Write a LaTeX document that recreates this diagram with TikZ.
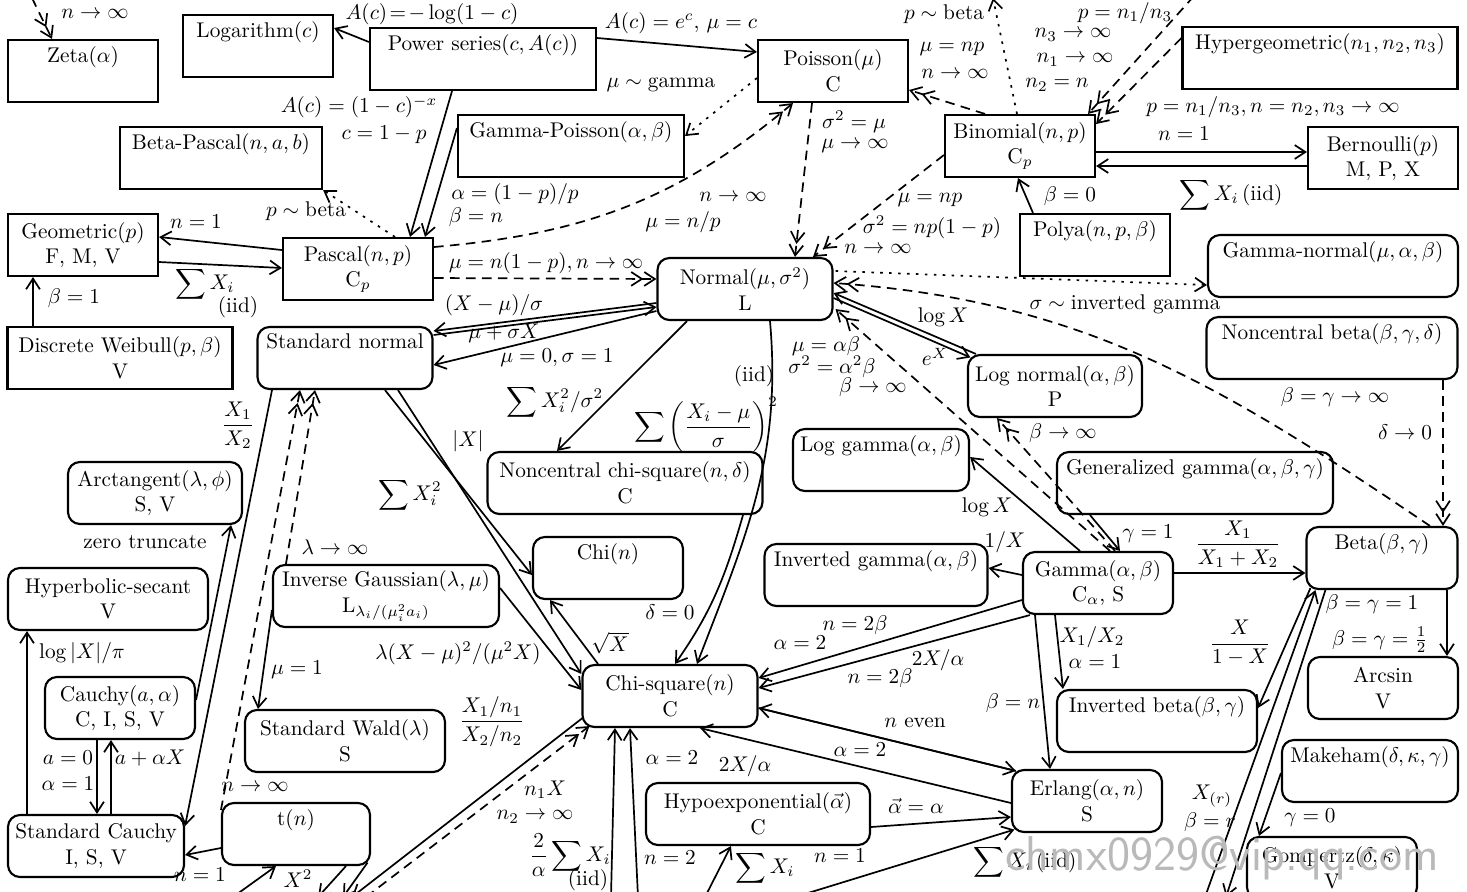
\documentclass[tikz,border=0pt]{standalone}
\usepackage{amsmath,amssymb}
\usepackage{tikz}
\usetikzlibrary{arrows.meta,calc}

\tikzset{
  disc/.style={draw,line width=1pt,rectangle,align=center,minimum height=62*0.47pt,inner sep=2pt},
  cont/.style={disc,rounded corners=5.6pt},
  boxw/.style={minimum width=#1*0.47pt},
  lbl/.style={inner sep=1pt},
  trans/.style={->,line width=0.8pt},
  limit/.style={->>,line width=0.8pt,dash pattern=on 4.5pt off 3pt},
  bayes/.style={->,line width=0.8pt,dash pattern=on 1.2pt off 3pt},
}

\begin{document}
\begin{tikzpicture}[x=0.47pt,y=-0.47pt,>={Straight Barb[length=5pt,width=6.5pt]}]
  \useasboundingbox (0,0) rectangle (1467,891);
  % discrete distributions
  \node[disc,boxw=150] (zeta) at (83,71) {Zeta$(\alpha)$\\\strut};
  \node[disc,boxw=150] (logar) at (258,46) {Logarithm$(c)$\\\strut};
  \node[disc,boxw=226] (power) at (483,59) {Power series$(c,A(c))$\\\strut};
  \node[disc,boxw=150] (poisson) at (833,71) {Poisson$(\mu)$\\C};
  \node[disc,boxw=275] (hyper) at (1320,58) {Hypergeometric$(n_1,n_2,n_3)$\\\strut};
  \node[disc,boxw=202] (betapas) at (221,158) {Beta-Pascal$(n,a,b)$\\\strut};
  \node[disc,boxw=226] (gampois) at (571,146) {Gamma-Poisson$(\alpha,\beta)$\\\strut};
  \node[disc,boxw=150] (binom) at (1020,146) {Binomial$(n,p)$\\C$_p$};
  \node[disc,boxw=150] (bern) at (1383,158) {Bernoulli$(p)$\\M, P, X};
  \node[disc,boxw=150] (geom) at (83,245) {Geometric$(p)$\\F, M, V};
  \node[disc,boxw=150] (pascal) at (358,269) {Pascal$(n,p)$\\C$_p$};
  \node[disc,boxw=150] (polya) at (1095,245) {Polya$(n,p,\beta)$\\\strut};
  \node[disc,boxw=225] (dweib) at (120,358) {Discrete Weibull$(p,\beta)$\\V};
  % continuous distributions
  \node[cont,boxw=175] (normal) at (745,289) {Normal$(\mu,\sigma^2)$\\L};
  \node[cont,boxw=250] (gamnorm) at (1333,266) {Gamma-normal$(\mu,\alpha,\beta)$\\\strut};
  \node[cont,boxw=175] (stdnorm) at (345,358) {Standard normal\\\strut};
  \node[cont,boxw=251] (ncbeta) at (1332,348) {Noncentral beta$(\beta,\gamma,\delta)$\\\strut};
  \node[cont,boxw=174] (lognorm) at (1055,386) {Log normal$(\alpha,\beta)$\\P};
  \node[cont,boxw=275] (ncchisq) at (625,483) {Noncentral chi-square$(n,\delta)$\\C};
  \node[cont,boxw=176] (loggam) at (881,460) {Log gamma$(\alpha,\beta)$\\\strut};
  \node[cont,boxw=276] (gengam) at (1195,483) {Generalized gamma$(\alpha,\beta,\gamma)$\\\strut};
  \node[cont,boxw=174] (arctan) at (155,493) {Arctangent$(\lambda,\phi)$\\S, V};
  \node[cont,boxw=150] (chi) at (608,568) {Chi$(n)$\\\strut};
  \node[cont,boxw=200] (hypsec) at (108,599) {Hyperbolic-secant\\V};
  \node[cont,boxw=226] (invgauss) at (386,596) {Inverse Gaussian$(\lambda,\mu)$\\L$_{\lambda_i/(\mu_i^2a_i)}$};
  \node[cont,boxw=223] (invgam) at (876,575) {Inverted gamma$(\alpha,\beta)$\\\strut};
  \node[cont,boxw=150] (gamma) at (1098,583) {Gamma$(\alpha,\beta)$\\C$_\alpha$, S};
  \node[cont,boxw=151] (beta) at (1382,558) {Beta$(\beta,\gamma)$\\\strut};
  \node[cont,boxw=175] (chisq) at (670,696) {Chi-square$(n)$\\C};
  \node[cont,boxw=150] (cauchy) at (120,708) {Cauchy$(a,\alpha)$\\C, I, S, V};
  \node[cont,boxw=200] (stdwald) at (345,741) {Standard Wald$(\lambda)$\\S};
  \node[cont,boxw=150] (arcsin) at (1383,688) {Arcsin\\V};
  \node[cont,boxw=200] (invbeta) at (1157,721) {Inverted beta$(\beta,\gamma)$\\\strut};
  \node[cont,boxw=176] (makeham) at (1370,771) {Makeham$(\delta,\kappa,\gamma)$\\\strut};
  \node[cont,boxw=176] (stdcauchy) at (96,846) {Standard Cauchy\\I, S, V};
  \node[cont,boxw=148] (tdist) at (296,834) {t$(n)$\\\strut};
  \node[cont,boxw=224] (hypoexp) at (758,814) {Hypoexponential$(\vec{\alpha})$\\C};
  \node[cont,boxw=150] (erlang) at (1087,801) {Erlang$(\alpha,n)$\\S};
  \node[cont,boxw=170] (gompertz) at (1332,868) {Gompertz$(\delta,\kappa)$\\V};
  % ends outside the frame
  \coordinate (zetain) at (32,-2);
  \coordinate (bbeta) at (993,-2);
  \coordinate (nhyper) at (1194,-4);
  \coordinate (fdist1) at (352,897);
  \coordinate (fdist2) at (366,897);
  \coordinate (expo1) at (611,897);
  \coordinate (expo2) at (638,897);
  \coordinate (expo3) at (795,897);
  \coordinate (expo4) at (705,897);
  \coordinate (unif1) at (1205,897);
  \coordinate (unif2) at (1226,897);
  \coordinate (tbot1) at (233,897);
  \coordinate (tbot2) at (318,897);
  \coordinate (tbot3) at (343,897);

  % discrete relations
  \draw[limit] (zetain) -- ($(zeta.north)+(-31,0)$);
  \draw[trans] ($(power.west)+(0,-17)$) -- ($(logar.east)+(0,-18)$);
  \draw[trans] ($(power.east)+(0,-21)$) -- ($(poisson.west)+(0,-19)$);
  \draw[trans] ($(power.south)+(-31,0)$) -- ($(pascal.north)+(52,0)$);
  \draw[trans] ($(gampois.west)+(0,-18)$) -- ($(pascal.north)+(67,0)$);
  \draw[bayes] ($(pascal.north)+(37,0)$) -- (betapas.south east);
  \draw[bayes] ($(poisson.west)+(0,7)$) -- ($(gampois.east)+(0,-10)$);
  \draw[limit] ($(pascal.east)+(0,-22)$) to[out=5,in=220] ($(poisson.south)+(-40,0)$);
  \draw[limit] ($(pascal.east)+(0,9)$) -- ($(normal.west)+(0,-10)$);
  \draw[limit] ($(poisson.south)+(-21,0)$) -- ($(normal.north)+(50,0)$);
  \draw[limit] ($(binom.north)+(-35,0)$) -- ($(poisson.east)+(0,19)$);
  \draw[limit] ($(binom.west)+(0,9)$) -- ($(normal.north)+(68,0)$);
  \draw[bayes] ($(binom.north)+(-3,0)$) -- (bbeta);
  \draw[limit] (nhyper) -- ($(binom.north east)+(-8,0)$);
  \draw[limit] ($(hyper.west)+(0,-20)$) -- ($(binom.east)+(0,-22)$);
  \draw[trans] ($(binom.east)+(0,6)$) -- ($(bern.west)+(0,-6)$);
  \draw[trans] ($(bern.west)+(0,8)$) -- ($(binom.east)+(0,20)$);
  \draw[trans] ($(polya.north)+(-62,0)$) -- ($(binom.south)+(-2,0)$);
  \draw[trans] ($(pascal.west)+(0,-19)$) -- ($(geom.east)+(0,-8)$);
  \draw[trans] ($(geom.east)+(0,17)$) -- ($(pascal.west)+(0,-1)$);
  \draw[trans] ($(dweib.north)+(-87,0)$) -- ($(geom.south)+(-50,0)$);

  % normal and chi-square
  \draw[trans] ($(normal.west)+(0,14)$) -- ($(stdnorm.east)+(0,-27)$);
  \draw[trans] ($(stdnorm.east)+(0,-23)$) -- ($(normal.west)+(0,18)$);
  \draw[trans] ($(normal.west)+(0,22)$) -- ($(stdnorm.east)+(0,7)$);
  \draw[trans] ($(normal.south)+(-58,0)$) -- ($(ncchisq.north)+(-68,0)$);
  \draw[trans] ($(normal.south)+(25,0)$) to[out=-85,in=69] ($(chisq.north)+(27,0)$);
  \draw[trans] ($(ncchisq.south)+(118,0)$) to[out=-106,in=55] ($(chisq.north)+(5,0)$);
  \draw[trans] ($(stdnorm.south)+(40,0)$) -- ($(chi.west)+(0,7)$);
  \draw[trans] ($(stdnorm.south)+(53,0)$) -- ($(chisq.west)+(0,-22)$);
  \draw[trans] ($(chisq.north)+(-72,0)$) -- ($(chi.south)+(-58,0)$);
  \draw[trans] ($(invgauss.east)+(0,-8)$) -- ($(chisq.west)+(0,-6)$);
  \draw[trans] ($(lognorm.north west)+(9,0)$) -- ($(normal.east)+(0,4)$);
  \draw[trans] ($(normal.east)+(0,9)$) -- ($(lognorm.north west)+(3.5,3.5)$);
  \draw[bayes] ($(normal.east)+(2,-18)$) -- ($(gamnorm.west)+(0,19)$);
  \draw[limit] ($(beta.north)+(48,0)$) to[out=146,in=-4] ($(normal.east)+(0,-6)$);
  \draw[limit] ($(ncbeta.south)+(111,0)$) -- ($(beta.north)+(61,0)$);

  % gamma family
  \draw[limit] ($(gamma.north)+(12,0)$) -- ($(normal.south east)+(2,-12)$);
  \draw[limit] ($(gamma.north)+(17,0)$) -- ($(lognorm.south)+(-58,0)$);
  \draw[trans] ($(gamma.north)+(-18,0)$) -- ($(loggam.east)+(0,-3)$);
  \draw[trans] ($(gamma.west)+(0,-8)$) -- ($(invgam.east)+(0,-7)$);
  \draw[trans] ($(gengam.south)+(-105,0)$) -- ($(gamma.north)+(22,0)$);
  \draw[trans] ($(gamma.east)+(0,-10)$) -- ($(beta.west)+(0,15)$);
  \draw[trans] ($(gamma.west)+(0,17)$) -- ($(chisq.east)+(0,-18)$);
  \draw[trans] ($(gamma.south west)+(8,0)$) -- ($(chisq.east)+(0,-8)$);
  \draw[trans] ($(gamma.south)+(-43,0)$) -- ($(invbeta.north)+(-94,0)$);
  \draw[trans] ($(gamma.south)+(-63,0)$) -- ($(erlang.north)+(-37,0)$);
  \draw[trans] ($(chisq.east)+(0,12)$) -- ($(erlang.north west)+(5,2)$);
  \draw[trans] ($(erlang.north west)+(5,2)$) -- ($(chisq.east)+(0,12)$);
  \draw[trans] ($(erlang.west)+(0,2)$) -- ($(chisq.south)+(30,0)$);
  \draw[trans] ($(hypoexp.east)+(0,13)$) -- ($(erlang.west)+(0,16)$);
  \draw[trans] (expo3) -- ($(erlang.south west)+(3.5,-3.5)$);
  \draw[trans] (expo4) -- ($(hypoexp.south west)+(86,0)$);
  \draw[trans] (expo1) -- ($(chisq.south)+(-55,0)$);
  \draw[trans] (expo2) -- ($(chisq.south)+(-40,0)$);
  \draw[trans] ($(chisq.south west)+(1,-10)$) -- (fdist1);
  \draw[limit] (fdist2) -- ($(chisq.south west)+(8,-2)$);

  % beta family
  \draw[trans] ($(beta.south west)+(5,-2)$) -- ($(invbeta.east)+(0,-13)$);
  \draw[trans] (unif1) -- ($(beta.south west)+(10,0)$);
  \draw[trans] ($(beta.south west)+(20,0)$) -- (unif2);
  \draw[trans] ($(beta.south)+(65,0)$) -- ($(arcsin.north)+(64,0)$);
  \draw[trans] ($(makeham.west)+(0,2)$) -- ($(gompertz.north west)+(13,0)$);

  % left side
  \draw[trans] ($(cauchy.south)+(-23,0)$) -- ($(stdcauchy.north)+(1,0)$);
  \draw[trans] ($(stdcauchy.north)+(15,0)$) -- ($(cauchy.south)+(-9,0)$);
  \draw[trans] ($(stdcauchy.north)+(-69,0)$) -- ($(hypsec.south)+(-81,0)$);
  \draw[trans] ($(stdnorm.south)+(-73,0)$) -- ($(stdcauchy.east)+(0,-20)$);
  \draw[trans] ($(cauchy.east)+(0,-8)$) -- ($(arctan.south east)+(-12,0)$);
  \draw[trans] ($(tdist.west)+(0,14)$) -- ($(stdcauchy.east)+(0,9)$);
  \draw[limit] ($(tdist.west)+(0,-24)$) -- ($(stdnorm.south)+(-45,0)$);
  \draw[limit] ($(invgauss.north west)+(14,0)$) -- ($(stdnorm.south)+(-30,0)$);
  \draw[trans] ($(invgauss.west)+(0,14)$) -- ($(stdwald.north)+(-87,0)$);
  \draw[trans] (tbot1) -- ($(tdist.south)+(-20,0)$);
  \draw[trans] ($(tdist.south)+(50,0)$) -- (tbot2);
  \draw[trans] ($(tdist.south east)+(-3.5,-3.5)$) -- (tbot3);

  % labels
  \node[lbl] (lzeta) at (95,14) {$n\to\infty$};
  \node[lbl] (llog) at (432,14) {$A(c)\!=\!-\log(1-c)$};
  \node[lbl] (lpois) at (681,23) {$A(c)=e^c,\,\mu=c$};
  \node[lbl] (lgam) at (661,85) {$\mu\sim{}$gamma};
  \node[lbl] (lpas1) at (359,107) {$A(c)=(1-c)^{-x}$};
  \node[lbl] (lpas2) at (384,135) {$c=1-p$};
  \node[lbl] (lbp) at (306,211) {$p\sim{}$beta};
  \node[lbl] (lgeo1) at (196,222) {$n=1$};
  \node[lbl] (lgeo2) at (205,284) {$\displaystyle\sum X_i$};
  \node[lbl] (lgeo3) at (238,307) {(iid)};
  \node[lbl] (lweib) at (74,298) {$\beta=1$};
  \node[lbl] (lgp1) at (515,194) {$\alpha=(1-p)/p$};
  \node[lbl] (lgp2) at (476,217) {$\beta=n$};
  \node[lbl] (lpp1) at (733,197) {$n\to\infty$};
  \node[lbl] (lpp2) at (683,222) {$\mu=n/p$};
  \node[lbl] (lpn) at (546,263) {$\mu=n(1-p),n\to\infty$};
  \node[lbl] (lpo1) at (854,122) {$\sigma^2=\mu$};
  \node[lbl] (lpo2) at (855,146) {$\mu\to\infty$};
  \node[lbl] (lbi1) at (952,49) {$\mu=np$};
  \node[lbl] (lbi2) at (955,74) {$n\to\infty$};
  \node[lbl] (lbb) at (944,14) {$p\sim{}$beta};
  \node[lbl] (lhy1) at (1125,13) {$p=n_1/n_3$};
  \node[lbl] (lhy2) at (1073,35) {$n_3\to\infty$};
  \node[lbl] (lhy3) at (1075,60) {$n_1\to\infty$};
  \node[lbl] (lhy4) at (1057,85) {$n_2=n$};
  \node[lbl] (lhy5) at (1273,107) {$p=n_1/n_3,n=n_2,n_3\to\infty$};
  \node[lbl] (lbe1) at (1184,134) {$n=1$};
  \node[lbl] (lbe2) at (1231,195) {$\displaystyle\sum X_i\,$(iid)};
  \node[lbl] (lpol) at (1070,196) {$\beta=0$};
  \node[lbl] (lbn1) at (930,200) {$\mu=np$};
  \node[lbl] (lbn2) at (932,227) {$\sigma^2=np(1-p)$};
  \node[lbl] (lbn3) at (878,249) {$n\to\infty$};
  \node[lbl] (ligam) at (1125,304) {$\sigma\sim{}$inverted gamma};
  \node[lbl] (lsn1) at (494,305) {$(X-\mu)/\sigma$};
  \node[lbl] (lsn2) at (504,333) {$\mu+\sigma X$};
  \node[lbl] (lsn3) at (557,358) {$\mu=0,\sigma=1$};
  \node[lbl] (lnc) at (555,402) {$\displaystyle\sum X_i^2/\sigma^2$};
  \node[lbl] (lcs1) at (754,376) {(iid)};
  \node[lbl] (lcs2) at (706,425) {$\displaystyle\sum\left(\frac{X_i-\mu}{\sigma}\right)^2$};
  \node[lbl] (labs) at (468,441) {$|X|$};
  \node[lbl] (lsq) at (410,495) {$\displaystyle\sum X_i^2$};
  \node[lbl] (lln1) at (943,317) {$\log X$};
  \node[lbl] (lln2) at (935,357) {$e^X$};
  \node[lbl] (lgn1) at (826,346) {$\mu=\alpha\beta$};
  \node[lbl] (lgn2) at (832,367) {$\sigma^2=\alpha^2\beta$};
  \node[lbl] (lgn3) at (873,387) {$\beta\to\infty$};
  \node[lbl] (lgl) at (1063,433) {$\beta\to\infty$};
  \node[lbl] (lbt1) at (1335,397) {$\beta=\gamma\to\infty$};
  \node[lbl] (lbt2) at (1405,432) {$\delta\to0$};
  \node[lbl] (llg) at (987,507) {$\log X$};
  \node[lbl] (lig) at (1005,542) {$1/X$};
  \node[lbl] (lgg) at (1148,534) {$\gamma=1$};
  \node[lbl] (lgb) at (1238,544) {$\dfrac{X_1}{X_1+X_2}$};
  \node[lbl] (lsc) at (238,425) {$\dfrac{X_1}{X_2}$};
  \node[lbl] (lzt) at (145,542) {zero truncate};
  \node[lbl] (lla) at (335,547) {$\lambda\to\infty$};
  \node[lbl] (lhs) at (82,653) {$\log|X|/\pi$};
  \node[lbl] (lwa) at (297,670) {$\mu=1$};
  \node[lbl] (lig2) at (458,653) {$\lambda(X-\mu)^2/(\mu^2X)$};
  \node[lbl] (lsqrt) at (610,643) {$\sqrt{X}$};
  \node[lbl] (ldel) at (670,612) {$\delta=0$};
  \node[lbl] (lgc1) at (855,625) {$n=2\beta$};
  \node[lbl] (lgc2) at (800,643) {$\alpha=2$};
  \node[lbl] (lgc3) at (938,660) {$2X/\alpha$};
  \node[lbl] (lgc4) at (880,678) {$n=2\beta$};
  \node[lbl] (lib1) at (1092,637) {$X_1/X_2$};
  \node[lbl] (lib2) at (1095,662) {$\alpha=1$};
  \node[lbl] (lib3) at (1240,643) {$\dfrac{X}{1-X}$};
  \node[lbl] (las1) at (1372,604) {$\beta=\gamma=1$};
  \node[lbl] (las2) at (1380,640) {$\beta=\gamma=\frac{1}{2}$};
  \node[lbl] (ler1) at (1013,703) {$\beta=n$};
  \node[lbl] (ler2) at (915,723) {$n$ even};
  \node[lbl] (ler3) at (860,750) {$\alpha=2$};
  \node[lbl] (ler4) at (745,766) {$2X/\alpha$};
  \node[lbl] (lex1) at (672,758) {$\alpha=2$};
  \node[lbl] (lfd) at (492,722) {$\dfrac{X_1/n_1}{X_2/n_2}$};
  \node[lbl] (lca1) at (68,758) {$a=0$};
  \node[lbl] (lca2) at (68,784) {$\alpha=1$};
  \node[lbl] (lca3) at (150,758) {$a+\alpha X$};
  \node[lbl] (ltn) at (255,787) {$n\to\infty$};
  \node[lbl] (lfn1) at (545,790) {$n_1X$};
  \node[lbl] (lfn2) at (535,817) {$n_2\to\infty$};
  \node[lbl] (lhe) at (916,806) {$\vec{\alpha}=\alpha$};
  \node[lbl] (lor1) at (1212,796) {$X_{(r)}$};
  \node[lbl] (lor2) at (1210,822) {$\beta=r$};
  \node[lbl] (lmg) at (1310,818) {$\gamma=0$};
  \node[lbl] (lex2) at (570,855) {$\dfrac{2}{\alpha}\displaystyle\sum X_i$};
  \node[lbl] (lex3) at (588,880) {(iid)};
  \node[lbl] (lex4) at (670,858) {$n=2$};
  \node[lbl] (lhx) at (765,868) {$\displaystyle\sum X_i$};
  \node[lbl] (lex5) at (840,856) {$n=1$};
  \node[lbl] (lex6) at (1025,862) {$\displaystyle\sum X_i\,$(iid)};
  \node[lbl] (lts) at (200,875) {$n=1$};
  \node[lbl] (ltf) at (298,879) {$X^2$};
  % watermark
  \node[text=gray!55,font=\sffamily\fontsize{23}{23}\selectfont] (wmark) at (1222,858) {chmx0929@vip.qq.com};
\end{tikzpicture}
\end{document}
